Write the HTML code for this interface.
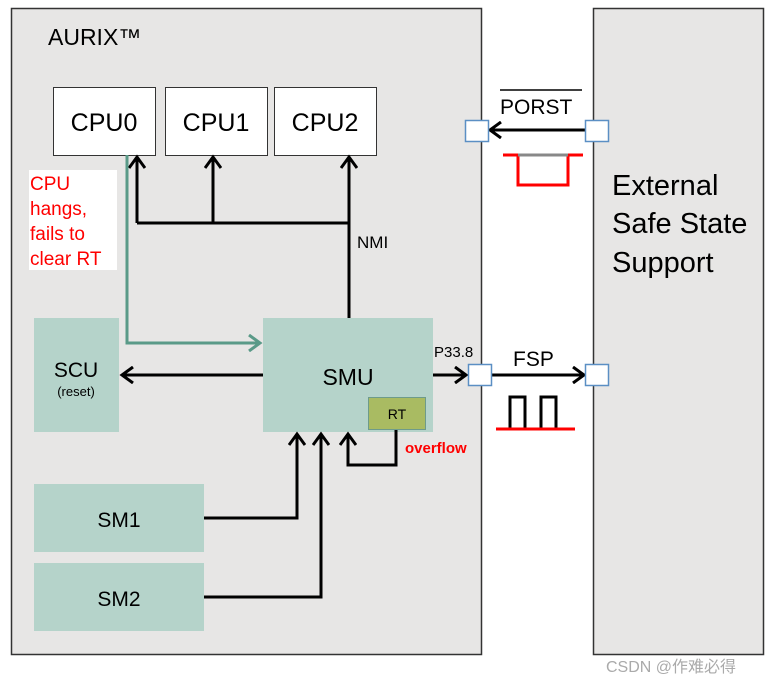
<!DOCTYPE html>
<html><head><meta charset="utf-8"><style>body{margin:0;background:#fff}svg{display:block}</style></head><body>
<svg width="769" height="683" xmlns="http://www.w3.org/2000/svg" font-family="Liberation Sans, sans-serif">
<defs>
<marker id="a" markerWidth="16" markerHeight="18" refX="13" refY="9" orient="auto" markerUnits="userSpaceOnUse"><path d="M2,1 L13,9 L2,17" fill="none" stroke="#000" stroke-width="3"/></marker>
<marker id="g" markerWidth="16" markerHeight="18" refX="13" refY="9" orient="auto" markerUnits="userSpaceOnUse"><path d="M2,1 L13,9 L2,17" fill="none" stroke="#5a9a88" stroke-width="3"/></marker>
</defs>
<rect x="11.5" y="8.5" width="470" height="646" fill="#e7e6e5" stroke="#333" stroke-width="1.5"/>
<rect x="593.5" y="8.5" width="170" height="646" fill="#e7e6e5" stroke="#333" stroke-width="1.5"/>
<text x="48" y="45" font-size="23">AURIX™</text>
<g font-size="25" text-anchor="middle">
<rect x="53.5" y="87.5" width="102" height="68" fill="#fff" stroke="#333"/><text x="104" y="131">CPU0</text>
<rect x="165.5" y="87.5" width="102" height="68" fill="#fff" stroke="#333"/><text x="216" y="131">CPU1</text>
<rect x="274.5" y="87.5" width="102" height="68" fill="#fff" stroke="#333"/><text x="325" y="131">CPU2</text>
</g>
<rect x="29" y="170" width="88" height="100" fill="#fff"/>
<g fill="#f00" font-size="19"><text x="30" y="190">CPU</text><text x="30" y="215">hangs,</text><text x="30" y="240">fails to</text><text x="30" y="265">clear RT</text></g>
<g stroke="#000" stroke-width="3" fill="none">
<path d="M137,223 H349" />
<path d="M137,223 V157" marker-end="url(#a)"/>
<path d="M213,223 V157" marker-end="url(#a)"/>
<path d="M349,318 V157" marker-end="url(#a)"/>
</g>
<text x="357" y="248" font-size="17">NMI</text>
<rect x="34" y="318" width="85" height="114" fill="#b5d3ca"/>
<text x="76" y="377" font-size="21" text-anchor="middle">SCU</text>
<text x="76" y="396" font-size="13" text-anchor="middle">(reset)</text>
<rect x="263" y="318" width="170" height="114" fill="#b5d3ca"/>
<text x="348" y="385" font-size="23" text-anchor="middle">SMU</text>
<rect x="368.5" y="397.5" width="57" height="32" fill="#a9bb62" stroke="#6e9b8a"/>
<text x="397" y="419" font-size="14" text-anchor="middle">RT</text>
<path d="M127,155 V343 H260" stroke="#5a9a88" stroke-width="3" fill="none" marker-end="url(#g)"/>
<g stroke="#000" stroke-width="3" fill="none">
<path d="M263,375 H122" marker-end="url(#a)"/>
<path d="M204,518 H297 V434" marker-end="url(#a)"/>
<path d="M204,597 H321 V434" marker-end="url(#a)"/>
<path d="M396,430 V465 H348 V434" marker-end="url(#a)"/>
<path d="M433,375 H466" marker-end="url(#a)"/>
<path d="M491,375 H584" marker-end="url(#a)"/>
<path d="M585,130 H490" marker-end="url(#a)"/>
</g>
<text x="405" y="453" fill="#f00" font-size="15" font-weight="bold">overflow</text>
<text x="434" y="357" font-size="15">P33.8</text>
<rect x="34" y="484" width="170" height="68" fill="#b5d3ca"/><text x="119" y="527" font-size="21" text-anchor="middle">SM1</text>
<rect x="34" y="563" width="170" height="68" fill="#b5d3ca"/><text x="119" y="606" font-size="21" text-anchor="middle">SM2</text>
<g fill="#fff" stroke="#5b8fc4" stroke-width="1.5">
<rect x="465.5" y="120.5" width="23" height="21"/><rect x="585.5" y="120.5" width="23" height="21"/>
<rect x="468.5" y="364.5" width="23" height="21"/><rect x="585.5" y="364.5" width="23" height="21"/>
</g>
<text x="500" y="114" font-size="21">PORST</text>
<line x1="500" y1="90" x2="582" y2="90" stroke="#000" stroke-width="1.5"/>
<path d="M503,155 H518 V185 H568 V155 H583" stroke="#f00" stroke-width="3" fill="none"/>
<line x1="518" y1="155" x2="568" y2="155" stroke="#888" stroke-width="3"/>
<text x="513" y="366" font-size="21">FSP</text>
<path d="M510,428 V397 H525 V428 M541,428 V397 H556 V428" stroke="#000" stroke-width="3" fill="none"/>
<line x1="496" y1="429" x2="575" y2="429" stroke="#f00" stroke-width="3"/>
<g font-size="29"><text x="612" y="195">External</text><text x="612" y="233">Safe State</text><text x="612" y="272">Support</text></g>
<text x="606" y="672" font-size="16" fill="#aaa" font-family="Liberation Sans, Noto Sans CJK SC, sans-serif">CSDN @作难必得</text>
</svg>
</body></html>
